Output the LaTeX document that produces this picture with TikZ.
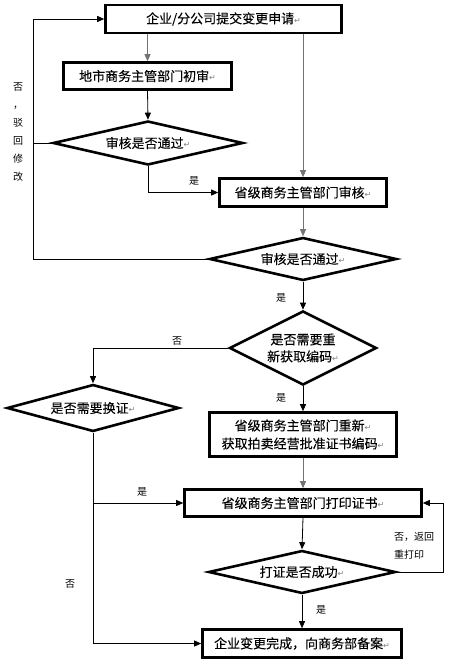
\documentclass[tikz,border=0pt]{standalone}
\usepackage{fontspec}
\setmainfont{Noto Sans CJK SC}
\newfontfamily\boxfont{Noto Sans CJK SC}[FakeBold=0.1]
\newfontfamily\dejavu{DejaVu Sans}
\usetikzlibrary{shapes.geometric,arrows.meta}
\newcommand{\retmk}{{\dejavu\fontsize{8}{8}\selectfont\textcolor{gray}{↵}}}
\begin{document}
\begin{tikzpicture}[x=1pt,y=-1pt,
  boxst/.style={draw,line width=2.6pt,rectangle,inner sep=0pt,font=\boxfont\fontsize{13}{18}\selectfont,align=center},
  dmst/.style={draw,line width=2.6pt,diamond,inner sep=0pt,shape aspect=3,font=\boxfont\fontsize{13}{17}\selectfont,align=center},
  conn/.style={line width=0.8pt,-{Triangle[length=7pt,width=6pt]}},
  plain/.style={line width=0.8pt},
  grayc/.style={draw=black!55},
  lbl/.style={font=\fontsize{10}{18}\selectfont,inner sep=0pt,align=left}]
\useasboundingbox (0,0) rectangle (454,661);
% nodes
\node[boxst,minimum width=236pt,minimum height=28pt] (b1) at (223.5,19) {企业/分公司提交变更申请\retmk};
\node[boxst,minimum width=168pt,minimum height=27pt] (b2) at (147.5,76) {地市商务主管部门初审\retmk};
\node[dmst,minimum width=190pt,minimum height=44pt] (d1) at (148,143) {审核是否通过\retmk};
\node[boxst,minimum width=167pt,minimum height=28pt] (b3) at (303,192.5) {省级商务主管部门审核\retmk};
\node[dmst,minimum width=187pt,minimum height=43pt] (d2) at (303,259) {审核是否通过\retmk};
\node[dmst,shape aspect=2,minimum width=147pt,minimum height=74pt] (d3) at (303,348) {是否需要重\\新获取编码\retmk};
\node[dmst,minimum width=172pt,minimum height=47pt] (d4) at (93,408) {是否需要换证\retmk};
\node[boxst,minimum width=187pt,minimum height=44pt] (b4) at (303,434.5) {省级商务主管部门重新\retmk\\获取拍卖经营批准证书编码\retmk};
\node[boxst,minimum width=237pt,minimum height=27pt] (b5) at (303,503) {省级商务主管部门打印证书\retmk};
\node[dmst,minimum width=187pt,minimum height=43pt] (d5) at (302,572) {打证是否成功\retmk};
\node[boxst,minimum width=199pt,minimum height=28pt] (b6) at (302,643.5) {企业变更完成，向商务部备案\retmk};
% coordinates
\coordinate (lt) at (33,19);
\coordinate (lb) at (33,259);
\coordinate (rr) at (443,572);
% connectors
\draw[conn,grayc] (b2.north |- b1.south) -- (b2.north);
\draw[conn,grayc] (b3.north |- b1.south) -- (b3.north);
\draw[conn] (b2.south) -- (d1.north);
\draw[conn] (d1.south) |- (b3.west);
\draw[conn] (d2.west) -- (lb) -- (lt) -- (b1.west);
\draw[plain] (d1.west) -- (d1.west -| lt);
\draw[conn,grayc] (b3.south) -- (d2.north);
\draw[conn] (d2.south) -- (d3.north);
\draw[conn] (d3.west) -| (d4.north);
\draw[conn] (d3.south) -- (b4.north);
\draw[conn,grayc] (b4.south) -- (b5.north);
\draw[conn] (d4.south) |- (b6.west);
\draw[conn] (d4.south |- b5.west) -- (b5.west);
\draw[conn] (b5.south) -- (d5.north);
\draw[conn] (d5.east) -- (rr) |- (b5.east);
\draw[conn] (d5.south) -- (b6.north);
% labels
\node[lbl] (l1) at (194,181) {是};
\node[lbl] (l2) at (281,298) {是};
\node[lbl] (l3) at (177,341) {否};
\node[lbl] (l4) at (281,398) {是};
\node[lbl] (l5) at (142,492) {是};
\node[lbl] (l6) at (70,584) {否};
\node[lbl] (l7) at (321,610) {是};
\node[lbl,anchor=north west] (l8) at (394,532) {否，返回\\重打印};
\node[lbl,align=center,anchor=north] (l9) at (18,82) {否\\，\\驳\\回\\修\\改};
\end{tikzpicture}
\end{document}
